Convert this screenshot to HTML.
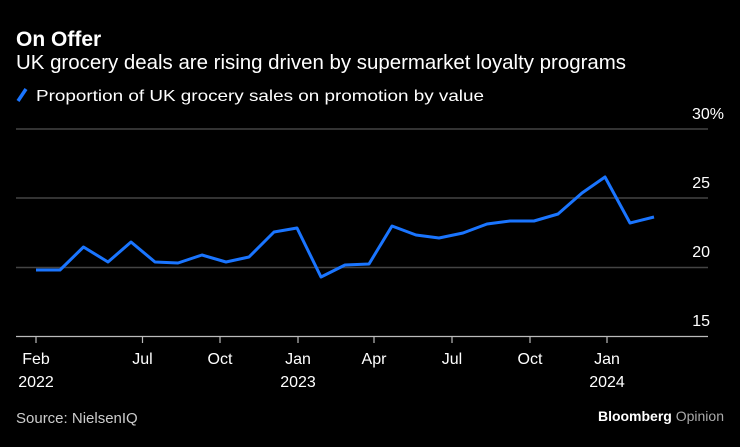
<!DOCTYPE html>
<html><head><meta charset="utf-8"><style>
body{margin:0;background:#000;width:740px;height:442px;overflow:hidden;font-family:"Liberation Sans",sans-serif;color:#fff}
</style></head><body>
<svg width="740" height="442" xmlns="http://www.w3.org/2000/svg" font-family="Liberation Sans, sans-serif">
<rect width="740" height="442" fill="#000"/>
<text x="16" y="46" font-size="21" font-weight="bold" fill="#fff">On Offer</text>
<text x="16" y="69" font-size="20.4" fill="#fff" textLength="610" lengthAdjust="spacingAndGlyphs">UK grocery deals are rising driven by supermarket loyalty programs</text>
<line x1="18" y1="101" x2="26" y2="89" stroke="#1a75ff" stroke-width="3.5"/>
<text x="36" y="101" font-size="16" fill="#fff" textLength="448" lengthAdjust="spacingAndGlyphs">Proportion of UK grocery sales on promotion by value</text>
<g stroke="#444" stroke-width="1.5">
<line x1="16" y1="129" x2="708" y2="129"/>
<line x1="16" y1="198" x2="708" y2="198"/>
<line x1="16" y1="267.5" x2="708" y2="267.5"/>
</g>
<line x1="16" y1="336.5" x2="708" y2="336.5" stroke="#bbb" stroke-width="1.2"/>
<g stroke="#bbb" stroke-width="1.2">
<line x1="36" y1="337" x2="36" y2="343"/><line x1="142.5" y1="337" x2="142.5" y2="343"/>
<line x1="220" y1="337" x2="220" y2="343"/><line x1="298" y1="337" x2="298" y2="343"/>
<line x1="374" y1="337" x2="374" y2="343"/><line x1="452" y1="337" x2="452" y2="343"/>
<line x1="530" y1="337" x2="530" y2="343"/><line x1="607" y1="337" x2="607" y2="343"/>
</g>
<g font-size="16" fill="#fff" text-anchor="end">
<text x="724" y="119">30%</text><text x="710" y="188">25</text><text x="710" y="257">20</text><text x="710" y="326">15</text>
</g>
<g font-size="16" fill="#fff" text-anchor="middle">
<text x="36" y="364">Feb</text><text x="36" y="387">2022</text>
<text x="142.5" y="364">Jul</text><text x="220" y="364">Oct</text>
<text x="298" y="364">Jan</text><text x="298" y="387">2023</text>
<text x="374" y="364">Apr</text><text x="452" y="364">Jul</text><text x="530" y="364">Oct</text>
<text x="607" y="364">Jan</text><text x="607" y="387">2024</text>
</g>
<polyline fill="none" stroke="#1a75ff" stroke-width="3" stroke-linejoin="round" points="36,270 60,270 83.5,247 108,262 131,242 155,262 178,263 202,255 226,262 249,257 274,232 297,228 321,277 345,265 369,264 392,226 416,235 439,238 463,233 487,224 510,221 534,221 558,214 582,193 605,177 630,223 654,217"/>
<text x="16" y="423" font-size="15" fill="#ccc">Source: NielsenIQ</text>
<text x="724" y="421" font-size="14" text-anchor="end" fill="#fff"><tspan font-weight="bold">Bloomberg</tspan> <tspan fill="#aaa">Opinion</tspan></text>
</svg>
</body></html>
